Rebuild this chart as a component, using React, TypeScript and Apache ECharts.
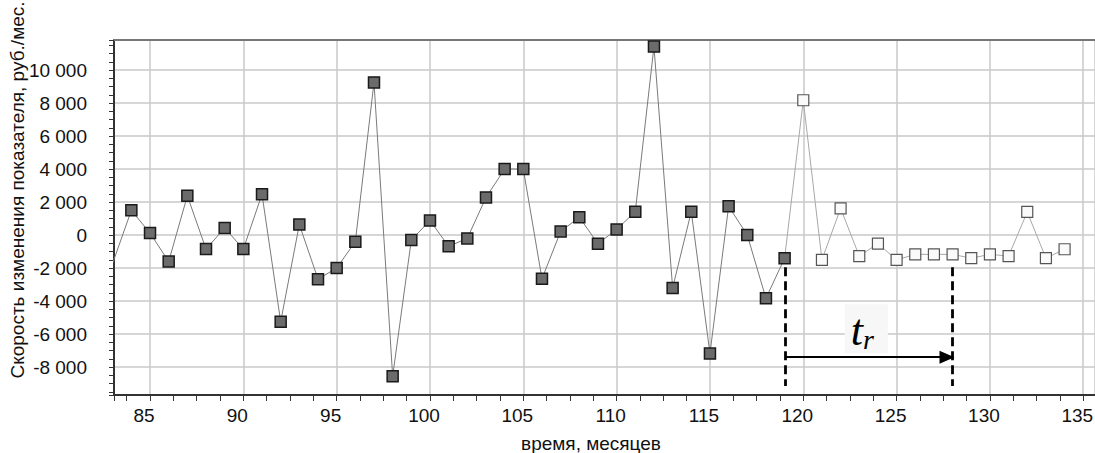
import React, { useEffect, useRef } from "react";
import * as echarts from "echarts";

// observed series (filled squares)
const months: number[] = [83, 84, 85, 86, 87, 88, 89, 90, 91, 92, 93, 94, 95, 96, 97, 98, 99, 100, 101, 102, 103, 104, 105, 106, 107, 108, 109, 110, 111, 112, 113, 114, 115, 116, 117, 118, 119];
const values: number[] = [-1700, 1500, 120, -1600, 2380, -850, 430, -850, 2480, -5250, 640, -2670, -2000, -400, 9250, -8550, -300, 880, -680, -200, 2280, 4000, 4000, -2650, 220, 1080, -520, 340, 1420, 11420, -3200, 1420, -7180, 1740, 0, -3830, -1400];

// forecast series (open squares), starting from the last observed point
const forecastMonths: number[] = [119, 120, 121, 122, 123, 124, 125, 126, 127, 128, 129, 130, 131, 132, 133, 134];
const forecastValues: number[] = [-1400, 8170, -1500, 1620, -1270, -520, -1500, -1170, -1170, -1170, -1400, -1170, -1270, 1400, -1400, -860];

// tick labels
const xTickValues: number[] = [85, 90, 95, 100, 105, 110, 115, 120, 125, 130, 135];
const yTickValues: number[] = [-8000, -6000, -4000, -2000, 0, 2000, 4000, 6000, 8000, 10000];

// annotation (t_r interval)
const trStart = 119.05;
const trEnd = 128;
const dashTop = -1950;
const dashBottom = -9150;
const arrowLevel = -7400;

const X_MIN = 83.07;
const X_MAX = 135.63;
const Y_MIN = -9690;
const Y_MAX = 11820;

const fmtNum = (v: number) => {
  const s = String(Math.abs(Math.round(v))).replace(/\B(?=(\d{3})+(?!\d))/g, " ");
  return (v < 0 ? "-" : "") + s;
};

const FONT = "'Liberation Sans', Arial, sans-serif";
const FS = 19;

export default function App() {
  const ref = useRef<HTMLDivElement>(null);
  useEffect(() => {
    if (!ref.current) return;
    const chart = echarts.init(ref.current, undefined, { renderer: "svg" });
    const data1 = months.map((m, i) => [m, values[i]]);
    const data2 = forecastMonths.map((m, i) =>
      i === 0 ? { value: [m, forecastValues[i]], symbol: "none" } : [m, forecastValues[i]]
    );
    const dashStyle = { type: [9, 5] as any, width: 2.8, color: "#000" };
    chart.setOption({
      animation: false,
      backgroundColor: "#fff",
      grid: { left: 114, top: 40, right: 0, bottom: 58, containLabel: false, outerBoundsMode: "none" },
      xAxis: [
        {
          type: "value",
          min: X_MIN,
          max: X_MAX,
          splitNumber: 10,
          axisLine: { show: true, onZero: false, lineStyle: { color: "#333", width: 2 } },
          axisTick: { show: true, length: 6, lineStyle: { color: "#333", width: 1 } },
          minorTick: { show: true, splitNumber: 4, length: 6, lineStyle: { color: "#333", width: 1 } },
          splitLine: { show: true, lineStyle: { color: "#c8c8c8", width: 1.5 } },
          axisLabel: {
            margin: 11,
            fontSize: FS,
            fontFamily: FONT,
            color: "#111",
            padding: [0, 12, 0, 0],
            showMinLabel: false,
            showMaxLabel: true,
            formatter: (v: number) => (xTickValues.some((t) => Math.abs(t - v) < 1e-6) ? String(Math.round(v)) : ""),
          },
        },
        {
          type: "value",
          position: "top",
          min: X_MIN,
          max: X_MAX,
          axisLine: { show: true, onZero: false, lineStyle: { color: "#777", width: 2 } },
          axisTick: { show: false },
          axisLabel: { show: false },
          splitLine: { show: false },
        },
      ],
      yAxis: {
        type: "value",
        min: Y_MIN,
        max: Y_MAX,
        splitNumber: 10,
        axisLine: { show: true, onZero: false, lineStyle: { color: "#333", width: 2 } },
        axisTick: { show: true, length: 5, lineStyle: { color: "#333", width: 1 } },
        minorTick: { show: true, splitNumber: 4, length: 5, lineStyle: { color: "#333", width: 1 } },
        splitLine: { show: true, lineStyle: { color: "#c8c8c8", width: 1.5 } },
        axisLabel: {
          margin: 27,
          fontSize: FS,
          fontFamily: FONT,
          color: "#111",
          showMinLabel: false,
          showMaxLabel: false,
          formatter: (v: number) => (yTickValues.some((t) => Math.abs(t - v) < 1e-6) ? fmtNum(v) : ""),
        },
      },
      graphic: [
        {
          type: "text",
          x: 17,
          y: 190,
          rotation: Math.PI / 2,
          style: {
            text: "Скорость изменения показателя, руб./мес.",
            font: `${FS}px ${FONT}`,
            fill: "#111",
            textAlign: "center",
            textVerticalAlign: "middle",
            align: "center",
            verticalAlign: "middle",
          },
        },
        {
          type: "text",
          x: 591,
          y: 443,
          style: {
            text: "время, месяцев",
            font: `${FS}px ${FONT}`,
            fill: "#111",
            textAlign: "center",
            textVerticalAlign: "middle",
            align: "center",
            verticalAlign: "middle",
          },
        },
      ],
      series: [
        {
          type: "line",
          data: data2,
          z: 2,
          symbol: "rect",
          symbolSize: 11,
          showAllSymbol: true,
          clip: true,
          lineStyle: { color: "#a8a8a8", width: 1 },
          itemStyle: { color: "#fafafa", borderColor: "#555", borderWidth: 1.2 },
          markLine: {
            silent: true,
            animation: false,
            symbol: ["none", "none"],
            data: [
              [
                { coord: [trStart, dashTop], lineStyle: dashStyle, label: { show: false } },
                { coord: [trStart, dashBottom] },
              ],
              [
                { coord: [trEnd, dashTop], lineStyle: dashStyle, label: { show: false } },
                { coord: [trEnd, dashBottom] },
              ],
              [
                {
                  coord: [trStart, arrowLevel],
                  symbol: "none",
                  lineStyle: { type: "solid", width: 2.2, color: "#000" },
                  label: {
                    show: true,
                    position: "middle",
                    distance: 4,
                    formatter: "{t|t}{r|r}",
                    backgroundColor: "#f7f7f7",
                    padding: [3, 14, 0, 6],
                    rich: {
                      t: { fontFamily: "'Liberation Serif', 'DejaVu Serif', serif", fontStyle: "italic", fontSize: 44, color: "#000", lineHeight: 46 },
                      r: { fontFamily: "'Liberation Serif', 'DejaVu Serif', serif", fontStyle: "italic", fontSize: 28, color: "#000", verticalAlign: "bottom", lineHeight: 36 },
                    },
                  },
                },
                { coord: [trEnd - 0.3, arrowLevel], symbol: "triangle", symbolSize: [13, 15] },
              ],
            ],
          },
        },
        {
          type: "line",
          data: data1,
          z: 3,
          symbol: "rect",
          symbolSize: 11,
          showAllSymbol: true,
          clip: true,
          lineStyle: { color: "#7a7a7a", width: 1 },
          itemStyle: { color: "#6b6b6b", borderColor: "#1a1a1a", borderWidth: 1.5 },
        },
      ],
    });
    return () => chart.dispose();
  }, []);
  return <div ref={ref} style={{ position: "absolute", left: 0, top: 0, width: 1095, height: 453 }} />;
}
